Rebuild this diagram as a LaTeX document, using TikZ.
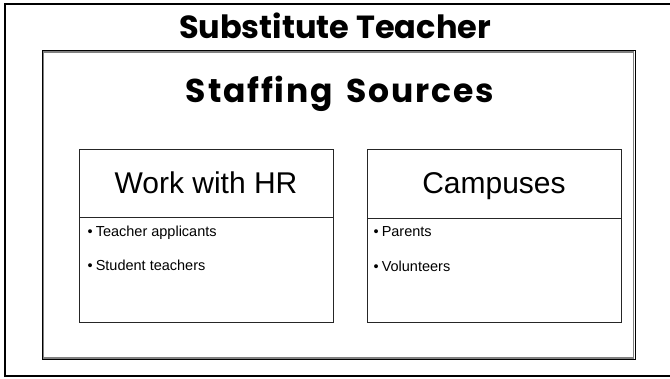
\documentclass[tikz,border=0pt]{standalone}
\usepackage{fontspec}
\setmainfont{Liberation Sans}
\newfontfamily\titlefont{Poppins}
\newfontfamily\spacedtitlefont[LetterSpace=5.5]{Poppins}
\tikzset{
  outerframe/.style={draw=black, line width=2pt},
  innerblack/.style={draw=black, line width=1pt, inner sep=0pt, anchor=north west},
  innergray/.style={draw=black!50, line width=1.6pt, inner sep=0pt, anchor=north west},
  srcbox/.style={draw=black!85, line width=0.8pt, inner sep=0pt, anchor=north west,
    minimum width=254pt, minimum height=173pt},
  bigtitle/.style={font=\titlefont\bfseries\fontsize{32}{36}\selectfont, anchor=base, inner sep=0pt},
  spacedtitle/.style={font=\spacedtitlefont\bfseries\fontsize{33}{36}\selectfont, anchor=base, inner sep=0pt},
  headtext/.style={font=\fontsize{30}{34}\selectfont, anchor=base, inner sep=0pt},
  itemtext/.style={font=\fontsize{14.5}{17}\selectfont, anchor=base west, inner sep=0pt},
}
\begin{document}
\begin{tikzpicture}[x=1pt,y=-1pt]
\useasboundingbox (0,0) rectangle (670,378);
\fill[white] (0,0) rectangle (670,378);
\draw[outerframe] (5,3.5) rectangle (675,376);
\node[innergray, minimum width=590.5pt, minimum height=306pt] (framegray) at (42.3,51) {};
\node[innerblack, minimum width=593.5pt, minimum height=309.5pt] (frame) at (41.5,49.5) {};
\node[bigtitle] (title) at (335,38) {Substitute Teacher};
\node[spacedtitle] (subtitle) at (340,102) {Staffing\hspace{5pt} Sources};
\node[srcbox] (hrbox) at (79,149) {};
\node[srcbox] (cabox) at (367,149) {};
\draw[black!85, line width=0.8pt] ([yshift=-68pt]hrbox.north west) -- ([yshift=-68pt]hrbox.north east);
\draw[black!85, line width=0.8pt] ([yshift=-69pt]cabox.north west) -- ([yshift=-69pt]cabox.north east);
\node[headtext] (hrhead) at (206,193) {Work with HR};
\node[headtext] (cahead) at (494,193) {Campuses};
\node[itemtext] (hr1) at (87.5,236.5) {•\hspace{3pt}Teacher applicants};
\node[itemtext] (hr2) at (87.5,270.5) {•\hspace{3pt}Student teachers};
\node[itemtext] (ca1) at (373.5,236) {•\hspace{3pt}Parents};
\node[itemtext] (ca2) at (373.5,271.5) {•\hspace{3pt}Volunteers};
\end{tikzpicture}
\end{document}
